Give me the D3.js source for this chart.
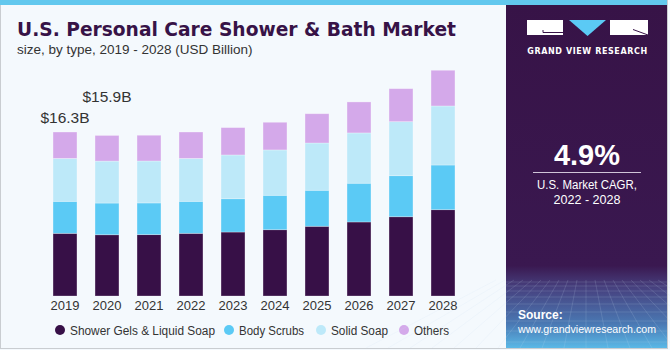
<!DOCTYPE html>
<html>
<head>
<meta charset="utf-8">
<script src="https://cdn.jsdelivr.net/npm/d3@7"></script>
<style>
  body { margin: 0; background: #fff; }
  svg { display: block; }
</style>
</head>
<body>
<div id="chart"></div>
<script>
const years = ["2019", "2020", "2021", "2022", "2023", "2024", "2025", "2026", "2027", "2028"];
const showerGels = [6.23, 6.09, 6.10, 6.23, 6.36, 6.59, 6.93, 7.36, 7.88, 8.58];
const bodyScrubs = [3.18, 3.15, 3.15, 3.18, 3.31, 3.42, 3.58, 3.85, 4.08, 4.44];
const solidSoap = [4.27, 4.17, 4.17, 4.27, 4.35, 4.51, 4.70, 5.00, 5.37, 5.87];
const others = [2.62, 2.55, 2.56, 2.62, 2.72, 2.75, 2.91, 3.08, 3.28, 3.55];
const seriesNames = ["Shower Gels & Liquid Soap", "Body Scrubs", "Solid Soap", "Others"];
const seriesColors = ["#371047", "#5bcaf5", "#bde9f9", "#d4a9ea"];
const valueLabels = [{ year: "2019", text: "$16.3B", lift: 9 }, { year: "2020", text: "$15.9B", lift: 33 }];

const width = 670, height = 350;
const svg = d3.select("#chart").append("svg")
    .attr("width", width)
    .attr("height", height);

// background + frame
svg.append("rect").attr("width", width).attr("height", height).attr("fill", "#f4f9fd");
svg.append("rect").attr("x", 0.5).attr("y", 0.5).attr("width", width - 3).attr("height", height - 2)
    .attr("fill", "none").attr("stroke", "#c9cdd1");
svg.append("rect").attr("x", 0).attr("y", 0).attr("width", 667).attr("height", 5).attr("fill", "#62c8ee");

// title
svg.append("text").attr("x", 17).attr("y", 36)
    .attr("font-family", "DejaVu Sans").attr("font-weight", "bold").attr("font-size", 20)
    .attr("fill", "#371347").attr("textLength", 439).attr("lengthAdjust", "spacingAndGlyphs")
    .text("U.S. Personal Care Shower & Bath Market");
svg.append("text").attr("x", 17).attr("y", 54)
    .attr("font-family", "Liberation Sans").attr("font-size", 13.5).attr("fill", "#333")
    .text("size, by type, 2019 - 2028 (USD Billion)");

// stacked bars
const table = years.map((y, i) => ({
    year: y,
    [seriesNames[0]]: showerGels[i],
    [seriesNames[1]]: bodyScrubs[i],
    [seriesNames[2]]: solidSoap[i],
    [seriesNames[3]]: others[i]
}));
const stack = d3.stack().keys(seriesNames)(table);

const xScale = d3.scaleBand().domain(years).range([44, 464]).paddingInner(0.43).paddingOuter(0.215);
const yScale = d3.scaleLinear().domain([0, 25]).range([296, 44.5]);
const color = d3.scaleOrdinal().domain(seriesNames).range(seriesColors);

svg.append("g").selectAll("g")
    .data(stack)
    .join("g")
    .attr("fill", d => color(d.key))
    .selectAll("rect")
    .data(d => d)
    .join("rect")
    .attr("x", d => xScale(d.data.year))
    .attr("y", d => yScale(d[1]))
    .attr("width", xScale.bandwidth())
    .attr("height", d => yScale(d[0]) - yScale(d[1]))
    .attr("stroke", "rgba(255,255,255,0.35)")
    .attr("stroke-width", 0.8);

const xAxis = svg.append("g")
    .attr("transform", "translate(0,296)")
    .call(d3.axisBottom(xScale).tickSize(0).tickPadding(5));
xAxis.select(".domain").remove();
xAxis.selectAll("text")
    .attr("font-family", "Liberation Sans").attr("font-size", 13).attr("fill", "#333");

const totals = years.map((y, i) => showerGels[i] + bodyScrubs[i] + solidSoap[i] + others[i]);
svg.append("g").selectAll("text")
    .data(valueLabels)
    .join("text")
    .attr("x", d => xScale(d.year) + xScale.bandwidth() / 2)
    .attr("y", d => yScale(totals[years.indexOf(d.year)]) - d.lift)
    .attr("text-anchor", "middle")
    .attr("font-family", "Liberation Sans").attr("font-size", 15.5).attr("fill", "#333")
    .text(d => d.text);

// legend
const legendX = [60, 229, 321, 404];
const legendW = [145, 65, 57, 35];
const legend = svg.append("g").selectAll("g")
    .data(seriesNames)
    .join("g")
    .attr("transform", (d, i) => `translate(${legendX[i]},330)`);
legend.append("circle").attr("r", 5).attr("fill", d => color(d));
legend.append("text").attr("x", 10).attr("y", 4.5)
    .attr("font-family", "Liberation Sans").attr("font-size", 12.5).attr("fill", "#333")
    .attr("textLength", (d, i) => legendW[i]).attr("lengthAdjust", "spacingAndGlyphs")
    .text(d => d);

// right panel
const defs = svg.append("defs");
const grad = defs.append("linearGradient").attr("id", "panelGrad").attr("x1", 0).attr("y1", 0).attr("x2", 0).attr("y2", 1);
grad.append("stop").attr("offset", "0%").attr("stop-color", "#371347");
grad.append("stop").attr("offset", "76%").attr("stop-color", "#3a1850");
grad.append("stop").attr("offset", "82%").attr("stop-color", "#463e7c");
grad.append("stop").attr("offset", "93%").attr("stop-color", "#4a79b4");
grad.append("stop").attr("offset", "100%").attr("stop-color", "#5ab8e6");

const panel = svg.append("g");
panel.append("rect").attr("x", 506).attr("y", 5).attr("width", 161).attr("height", 343).attr("fill", "url(#panelGrad)");

// faint perspective grid at the bottom of the panel
const grid = panel.append("g").attr("stroke", "rgba(200,225,245,0.22)").attr("stroke-width", 0.7).attr("fill", "none");
const gridRows = [282, 286, 291, 297, 304, 312, 321, 331, 342];
gridRows.forEach(y => grid.append("line").attr("x1", 506).attr("x2", 667).attr("y1", y).attr("y2", y));
d3.range(-10, 11).forEach(k => grid.append("line")
    .attr("x1", 586 + k * 9).attr("y1", 280).attr("x2", 586 + k * 22).attr("y2", 348));

// logo
panel.append("rect").attr("x", 527).attr("y", 20).attr("width", 36).attr("height", 15).attr("fill", "#fff");
panel.append("path").attr("d", "M543,30 V32.5 H563").attr("stroke", "#371347").attr("stroke-width", 1).attr("fill", "none");
panel.append("path").attr("d", "M569,20 H606 L587.5,36 Z").attr("fill", "#5bcaf5");
panel.append("rect").attr("x", 610).attr("y", 20).attr("width", 38).attr("height", 15).attr("fill", "#fff");
panel.append("path").attr("d", "M633,29.5 L648,35").attr("stroke", "#371347").attr("stroke-width", 1);
panel.append("text").attr("x", 587.5).attr("y", 53.5).attr("text-anchor", "middle")
    .attr("font-family", "DejaVu Sans").attr("font-weight", "bold").attr("font-size", 8)
    .attr("letter-spacing", 0.6).attr("fill", "#fff")
    .text("GRAND VIEW RESEARCH");

panel.append("text").attr("x", 587).attr("y", 165).attr("text-anchor", "middle")
    .attr("font-family", "Liberation Sans").attr("font-weight", "bold").attr("font-size", 29).attr("fill", "#fff")
    .text("4.9%");
panel.append("line").attr("x1", 533).attr("x2", 641).attr("y1", 172.5).attr("y2", 172.5)
    .attr("stroke", "#cfc4d8").attr("stroke-width", 1);
panel.append("text").attr("x", 587).attr("y", 189).attr("text-anchor", "middle")
    .attr("font-family", "Liberation Sans").attr("font-size", 12.5).attr("fill", "#fff")
    .attr("textLength", 100).attr("lengthAdjust", "spacingAndGlyphs")
    .text("U.S. Market CAGR,");
panel.append("text").attr("x", 587).attr("y", 203.5).attr("text-anchor", "middle")
    .attr("font-family", "Liberation Sans").attr("font-size", 12.5).attr("fill", "#fff")
    .attr("textLength", 67).attr("lengthAdjust", "spacingAndGlyphs")
    .text("2022 - 2028");
panel.append("text").attr("x", 518).attr("y", 319)
    .attr("font-family", "Liberation Sans").attr("font-weight", "bold").attr("font-size", 12).attr("fill", "#fff")
    .text("Source:");
panel.append("text").attr("x", 518).attr("y", 333)
    .attr("font-family", "Liberation Sans").attr("font-size", 10.6).attr("fill", "#fff")
    .attr("textLength", 138).attr("lengthAdjust", "spacingAndGlyphs")
    .text("www.grandviewresearch.com");
</script>
</body>
</html>
